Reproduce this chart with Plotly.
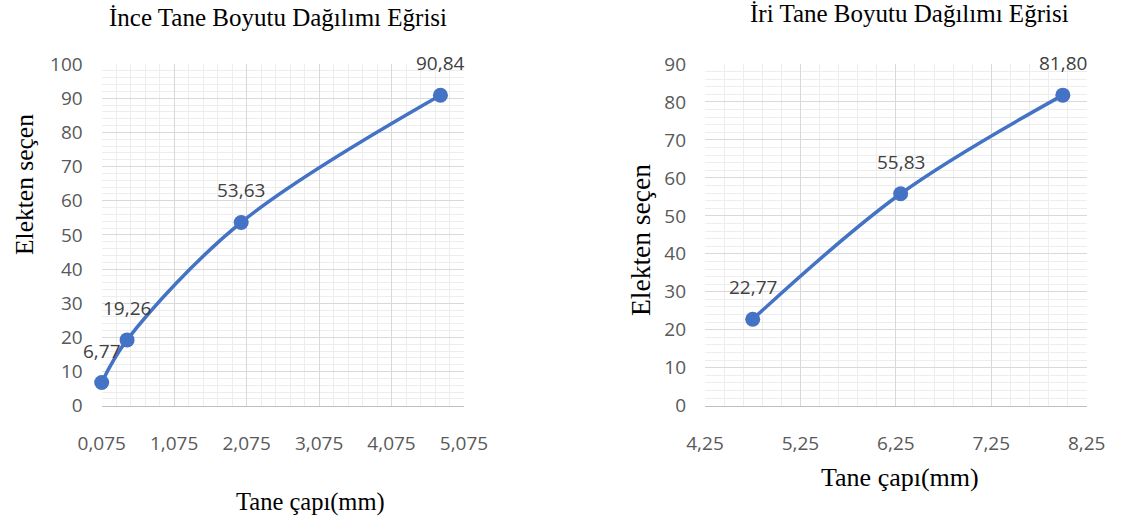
import plotly.graph_objects as go

# Data
fine_x = [0.075, 0.425, 2.0, 4.75]
fine_y = [6.77, 19.26, 53.63, 90.84]
coarse_x = [4.75, 6.3, 8.0]
coarse_y = [22.77, 55.83, 81.80]

fine_title = "İnce Tane Boyutu Dağılımı Eğrisi"
coarse_title = "İri Tane Boyutu Dağılımı Eğrisi"
x_title = "Tane çapı(mm)"
y_title = "Elekten seçen"

W, H = 1134, 525
BLUE = "#4472C4"
TICK_FONT = dict(family="Open Sans", size=19, color="#595959")
LABEL_FONT = dict(family="Open Sans", size=19, color="#404040")
SERIF = "Liberation Serif"

def fmt(v):
    return f"{v:.2f}".replace(".", ",")

fig = go.Figure()
fig.add_trace(go.Scatter(x=fine_x, y=fine_y, mode="lines+markers", xaxis="x", yaxis="y",
                         line=dict(color=BLUE, width=3.5, shape="spline", smoothing=1),
                         marker=dict(color=BLUE, size=15), cliponaxis=False, showlegend=False))
fig.add_trace(go.Scatter(x=coarse_x, y=coarse_y, mode="lines+markers", xaxis="x2", yaxis="y2",
                         line=dict(color=BLUE, width=3.5, shape="spline", smoothing=1),
                         marker=dict(color=BLUE, size=15), cliponaxis=False, showlegend=False))

annotations = []
for xv, yv in zip(fine_x, fine_y):
    annotations.append(dict(x=xv, y=yv, xref="x", yref="y", text=fmt(yv), showarrow=False,
                            xanchor="center", yanchor="middle", yshift=32, font=LABEL_FONT))
for xv, yv in zip(coarse_x, coarse_y):
    annotations.append(dict(x=xv, y=yv, xref="x2", yref="y2", text=fmt(yv), showarrow=False,
                            xanchor="center", yanchor="middle", yshift=32, font=LABEL_FONT))

def px(xp):
    return xp / W

def py(yp):
    return 1 - yp / H

def serif(size):
    return dict(family=SERIF, size=size, color="#000000")

for (xx, yy, txt, ang, fnt) in [
    (278, 18, fine_title, 0, serif(25)),
    (909, 14, coarse_title, 0, serif(25)),
    (310, 502, x_title, 0, serif(24.5)),
    (900, 477, x_title, 0, serif(26)),
    (24, 185, y_title, -90, serif(25.5)),
    (641, 240, y_title, -90, serif(27.5)),
]:
    annotations.append(dict(x=px(xx), y=py(yy), xref="paper", yref="paper", text=txt,
                            showarrow=False, textangle=ang, font=fnt,
                            xanchor="center", yanchor="middle"))

MAJOR = "#D9D9D9"
MINOR = "#EDEDED"

def xaxis(domain, rng, tick0, fmt_, anchor):
    return dict(domain=domain, range=rng, tick0=tick0, dtick=1, tickmode="linear", tickformat=fmt_,
                showgrid=True, gridcolor=MAJOR, gridwidth=1, zeroline=False, automargin=False,
                showline=True, linecolor="#BFBFBF", linewidth=1, ticks="", ticklabelstandoff=20,
                tickfont=TICK_FONT, anchor=anchor, fixedrange=True,
                minor=dict(tick0=tick0, dtick=0.2, showgrid=True, gridcolor=MINOR, gridwidth=1))

def yaxis(domain, rng, anchor):
    return dict(domain=domain, range=rng, tick0=0, dtick=10, tickmode="linear", automargin=False,
                showgrid=True, gridcolor=MAJOR, gridwidth=1, zeroline=False,
                showline=False, ticks="", ticklabelstandoff=18, tickfont=TICK_FONT, anchor=anchor,
                fixedrange=True,
                minor=dict(tick0=0, dtick=2, showgrid=True, gridcolor=MINOR, gridwidth=1))

ydom = [py(405.7), py(64)]
fig.update_layout(
    width=W, height=H, margin=dict(l=0, r=0, t=0, b=0, pad=0, autoexpand=False),
    paper_bgcolor="white", plot_bgcolor="white",
    separators=",.",
    xaxis=xaxis([px(101.7), px(464)], [0.075, 5.075], 0.075, ".3f", "y"),
    yaxis=yaxis(ydom, [0, 100], "x"),
    xaxis2=xaxis([px(705), px(1086.7)], [4.25, 8.25], 4.25, ".2f", "y2"),
    yaxis2=yaxis(ydom, [0, 90], "x2"),
    annotations=annotations,
)

fig.write_html("out.html")
